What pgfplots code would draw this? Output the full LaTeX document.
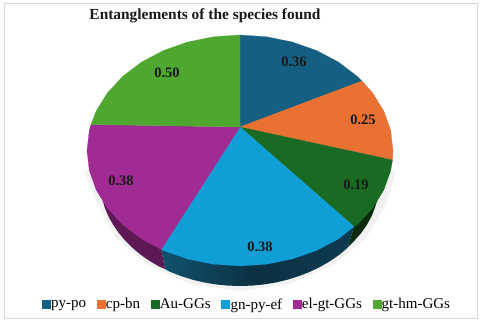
\documentclass[border=0pt]{standalone}
\usepackage{fontspec}
\setmainfont{Liberation Serif}
\usepackage{pgfplots}
\pgfplotsset{compat=1.18}
\definecolor{cA}{HTML}{156082}
\definecolor{cB}{HTML}{E97132}
\definecolor{cC}{HTML}{196B24}
\definecolor{cD}{HTML}{0F9ED5}
\definecolor{cE}{HTML}{A02B93}
\definecolor{cF}{HTML}{4EA72E}
\definecolor{frameC}{HTML}{D8D8D8}
\pgfplotsset{sq/.style={legend image code/.code={\fill[##1] (0pt,-4pt) rectangle (8pt,4pt);}}}
\begin{document}
\begin{tikzpicture}
\begin{axis}[
  name=ax,
  width=480pt,height=324pt,scale only axis,
  xmin=0,xmax=480,ymin=0,ymax=324,y dir=reverse,
  axis lines=none,ticks=none,clip=false,
  legend columns=6,
  legend style={at={(axis cs:246.5,304.5)},anchor=center,draw=none,fill=none,font=\fontsize{15}{15}\selectfont,
    inner sep=0pt,
    /tikz/every even column/.append style={column sep=9.6pt},
    /tikz/every odd column/.append style={column sep=0pt},
    nodes={inner xsep=1pt,inner ysep=0pt}},
  legend cell align=left,
]
% frame
\addplot[forget plot,draw=frameC,line width=1pt,fill=white] coordinates {(4,4)(477,4)(477,318)(4,318)} --cycle;
% soft shadow
\addplot[forget plot,fill=black!5,draw=none] coordinates {(84,170)(98,205)(116,238)(148,265)(190,284)(240,291)(290,284)(333,265)(366,238)(386,205)(396,170)} --cycle;
% side walls
\addplot[forget plot,draw=none,fill=cC!40!black] coordinates {(380,180)(379.5,189)(377.9,198.4)(375,207.5)(371.6,216.3)(366.8,225)(361.2,233)(355,240)(348,247)(354,226.5)} --cycle;
\addplot[forget plot,draw=none,left color=cA!85!black,right color=cA!62!black,middle color=cA!50!black] coordinates {(354,226.5)(348,247)(347.2,248.1)(339,255)(330,261.2)(320.3,266.8)(310,271.8)(299.2,276)(287.9,279.6)(276.2,282.4)(264.3,284.4)(252.2,285.6)(240,286)(227.8,285.6)(215.7,284.4)(203.8,282.4)(192.1,279.6)(180.8,276)(170,271.8)(165,269)(161.2,249.5)} --cycle;
\addplot[forget plot,draw=none,fill=cE!58!black] coordinates {(165,269)(159.7,266.8)(150,261.2)(141,255)(132.8,248.1)(125.4,240.9)(118.8,233)(113.2,224.9)(108.4,216.3)(104.7,207.5)(102.1,198.4)(100.5,189.2)(100,180)(161.2,249.5)} --cycle;
% top faces
\addplot[sq,fill=cA,draw=cA,line width=0.2pt] coordinates {(240,127)(240,35)(266.6,36.8)(292.3,42)(316.5,50.5)(338.3,62)(357.2,76.3)(362,81)} --cycle;
\addlegendentry{py-po}
\addplot[sq,fill=cB,draw=cB,line width=0.2pt] coordinates {(240,127)(362,81)(372.5,92.8)(383.8,111)(390.7,130.4)(393,150.5)(392.5,160)} --cycle;
\addlegendentry{cp-bn}
\addplot[sq,fill=cC,draw=cC,line width=0.2pt] coordinates {(240,127)(392.5,160)(390.7,170.6)(383.8,190)(372.5,208.3)(357.2,224.7)(354,226.5)} --cycle;
\addlegendentry{Au-GGs}
\addplot[sq,fill=cD,draw=cD,line width=0.2pt] coordinates {(240,127)(354,226.5)(338.3,239)(316.5,250.5)(292.3,259)(266.6,264.2)(240,266)(213.4,264.2)(187.7,259)(163.5,250.5)(161.2,249.5)} --cycle;
\addlegendentry{gn-py-ef}
\addplot[sq,fill=cE,draw=cE,line width=0.2pt] coordinates {(240,127)(161.2,249.5)(141.7,239)(122.8,224.7)(107.5,208.3)(96.2,190)(89.3,170.6)(87,150.5)(89.3,130.4)(91,124.5)} --cycle;
\addlegendentry{el-gt-GGs}
\addplot[sq,fill=cF,draw=cF,line width=0.2pt] coordinates {(240,127)(91,124.5)(96.2,111)(107.5,92.8)(122.8,76.3)(141.7,62)(163.5,50.5)(187.7,42)(213.4,36.8)(240,35)} --cycle;
\addlegendentry{gt-hm-GGs}
% value labels
\addplot[forget plot,draw=none,mark=none,nodes near coords,point meta=explicit symbolic,
  every node near coord/.style={anchor=center,inner sep=0pt,font=\fontsize{14.5}{14.5}\selectfont\bfseries,text=black!90}]
  coordinates {(294,62)[0.36] (363,120)[0.25] (356,184.5)[0.19] (260,247)[0.38] (121,181)[0.38] (167,73)[0.50]};
\node[font=\fontsize{15.4}{15.4}\selectfont\bfseries,text=black!90] at (axis cs:205,16) {Entanglements of the species found};
\end{axis}
\pgfresetboundingbox
\useasboundingbox (ax.south west) rectangle (ax.north east);
\end{tikzpicture}
\end{document}
